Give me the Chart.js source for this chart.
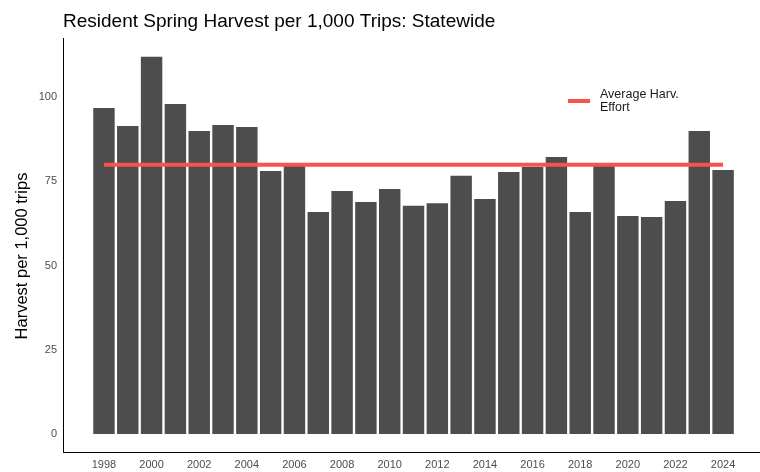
<!DOCTYPE html>
<html>
<head>
<meta charset="utf-8">
<script src="https://cdn.jsdelivr.net/npm/chart.js@4"></script>
<style>
  html, body { margin: 0; padding: 0; background: #fff; overflow: hidden; }
  #wrap { width: 760px; height: 472px; }
</style>
</head>
<body>
<div id="wrap"><canvas id="grafica" width="760" height="472"></canvas></div>
<script>
// datos
const years = [1998, 1999, 2000, 2001, 2002, 2003, 2004, 2005, 2006, 2007, 2008, 2009, 2010, 2011,
    2012, 2013, 2014, 2015, 2016, 2017, 2018, 2019, 2020, 2021, 2022, 2023, 2024];
const harvest = [96.7, 91.4, 111.9, 97.9, 89.9, 91.7, 91.1, 78.0, 79.5, 65.9, 72.1, 68.8, 72.7, 67.7,
    68.5, 76.6, 69.7, 77.7, 79.2, 82.2, 65.9, 79.5, 64.7, 64.4, 69.1, 89.9, 78.3];
const averageHarv = 79.9;
const xTickLabels = [1998, 2000, 2002, 2004, 2006, 2008, 2010, 2012, 2014, 2016, 2018, 2020, 2022, 2024];
const yTickLabels = [0, 25, 50, 75, 100];

const fuente = "'Liberation Sans', Arial, sans-serif";
const gris = "#4D4D4D";
const rojo = "#F8544B";

// titulo, titulo del eje y y leyenda dibujados a mano (como en ggplot)
const textos = {
    id: "textos",
    afterDraw(chart) {
        const ctx = chart.ctx;
        const area = chart.chartArea;
        ctx.save();
        ctx.fillStyle = "#000";
        ctx.font = "19px " + fuente;
        ctx.textBaseline = "alphabetic";
        ctx.textAlign = "left";
        ctx.fillText("Resident Spring Harvest per 1,000 Trips: Statewide", area.left, 27);

        ctx.save();
        ctx.translate(22, 256);
        ctx.rotate(-Math.PI / 2);
        ctx.textAlign = "center";
        ctx.textBaseline = "middle";
        ctx.font = "16.5px " + fuente;
        ctx.fillText("Harvest per 1,000 trips", 0, 0);
        ctx.restore();

        ctx.strokeStyle = rojo;
        ctx.lineWidth = 4;
        ctx.beginPath();
        ctx.moveTo(568, 101);
        ctx.lineTo(590, 101);
        ctx.stroke();
        ctx.fillStyle = "#1A1A1A";
        ctx.font = "12.5px " + fuente;
        ctx.textBaseline = "middle";
        ctx.fillText("Average Harv.", 600, 95);
        ctx.fillText("Effort", 600, 108);
        ctx.restore();
    }
};

const datos = {
    datasets: [{
        type: "line",
        label: "Average Harv. Effort",
        data: [{ x: years[0], y: averageHarv }, { x: years[years.length - 1], y: averageHarv }],
        borderColor: rojo,
        borderWidth: 4,
        pointRadius: 0,
        order: 0
    }, {
        type: "bar",
        label: "Harvest",
        data: years.map((y, i) => ({ x: y, y: harvest[i] })),
        backgroundColor: gris,
        barPercentage: 0.9,
        categoryPercentage: 1,
        order: 1
    }]
};

const config = {
    data: datos,
    plugins: [textos],
    options: {
        responsive: false,
        animation: false,
        layout: { padding: { left: 0, right: 0, top: 38, bottom: 0 } },
        plugins: {
            legend: { display: false },
            tooltip: { enabled: false },
            title: { display: false }
        },
        scales: {
            x: {
                type: "linear",
                min: 1996.28,
                max: 2025.55,
                offset: false,
                grid: { display: false, drawTicks: true, tickLength: 4, tickColor: "#333" },
                border: { display: true, color: "#000", width: 1 },
                afterBuildTicks(scale) {
                    scale.ticks = xTickLabels.map(v => ({ value: v }));
                },
                afterFit(scale) { scale.height = 20; },
                ticks: {
                    color: gris,
                    font: { family: fuente, size: 11 },
                    padding: 2,
                    maxRotation: 0,
                    autoSkip: false,
                    callback: v => String(v)
                }
            },
            y: {
                min: -5.35,
                max: 117.5,
                grid: { display: false, drawTicks: true, tickLength: 4, tickColor: "#333" },
                border: { display: true, color: "#000", width: 1 },
                afterBuildTicks(scale) {
                    scale.ticks = yTickLabels.map(v => ({ value: v }));
                },
                afterFit(scale) { scale.width = 63; },
                ticks: {
                    color: gris,
                    font: { family: fuente, size: 11 },
                    padding: 2
                }
            }
        }
    }
};

new Chart(document.getElementById("grafica"), config);
</script>
</body>
</html>
